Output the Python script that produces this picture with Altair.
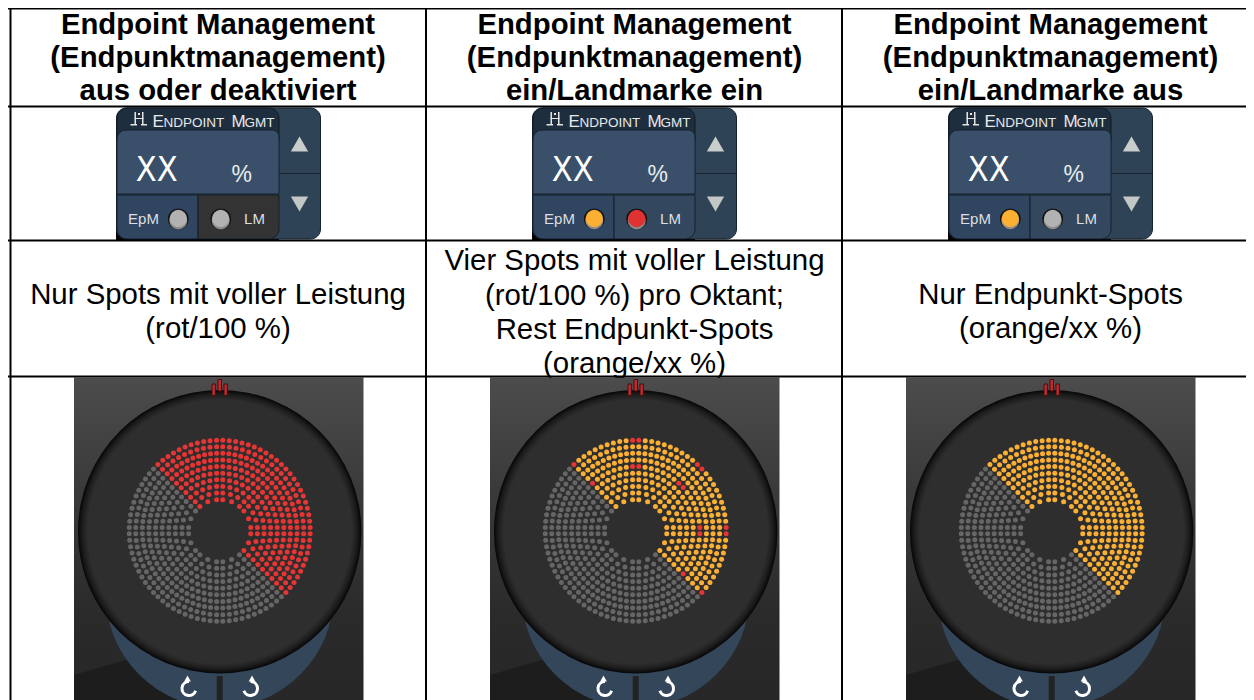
import math
import altair as alt
import pandas as pd

# ---- text ----
HEADERS = [
    ["Endpoint Management", "(Endpunktmanagement)", "aus oder deaktiviert"],
    ["Endpoint Management", "(Endpunktmanagement)", "ein/Landmarke ein"],
    ["Endpoint Management", "(Endpunktmanagement)", "ein/Landmarke aus"],
]
BODIES = [
    [(303.5, "Nur Spots mit voller Leistung"), (337.5, "(rot/100 %)")],
    [(270, "Vier Spots mit voller Leistung"), (304.5, "(rot/100 %) pro Oktant;"),
     (338.5, "Rest Endpunkt-Spots"), (372.5, "(orange/xx %)")],
    [(303.5, "Nur Endpunkt-Spots"), (337.5, "(orange/xx %)")],
]
HEADER_BASELINES = [33.5, 66.5, 99.5]
COLUMN_CENTRES = [218, 634.5, 1050.5]
COLUMN_SHIFT = [0, 416, 832]

# ---- table rules ----
H_LINES = [8.5, 106.5, 240.5, 376.5]
V_LINES = [10.5, 426, 842]

# ---- spot rings ----
RING_RADII = [31.2, 37.8, 44.4, 51.0, 57.6, 64.2, 70.8, 77.4, 84.0, 90.5]
RING_SPOTS_PER_OCTANT = [3, 4, 5, 6, 7, 8, 9, 10, 10, 11]
ACTIVE_OCTANTS = [7, 0, 1, 2]
FULL_POWER_RINGS = [5, 9]
SPOT_BASE = ["#e53535", "#fbb034", "#fbb034"]
SPOT_EDGE = ["#e53535", "#e53535", "#fbb034"]
SPOT_OFF = "#666666"
BOUNDARY_GAP = 3.1
CENTRE = (219.7, 530.7)

# ---- lamps ----
EPM_LAMP = ["#b2b2b2", "#fbb034", "#fbb034"]
LM_LAMP = ["#b2b2b2", "#e03232", "#b2b2b2"]
LM_CELL = ["#333333", "#33475e", "#33475e"]

X_END, Y_END = 1246, 700
xs = alt.Scale(domain=[8, X_END], range=[0, X_END - 8], nice=False, zero=False)
ys = alt.Scale(domain=[8, Y_END], range=[0, Y_END - 8], nice=False, zero=False)


def X(f="x"):
    return alt.X(f"{f}:Q", scale=xs, axis=None)


def Y(f="y"):
    return alt.Y(f"{f}:Q", scale=ys, axis=None)


def rects(rows, **kw):
    df = pd.DataFrame(rows, columns=["x0", "x1", "y0", "y1", "fill"])
    return alt.Chart(df).mark_rect(**kw).encode(
        x=X("x0"), x2="x1", y=Y("y0"), y2="y1",
        fill=alt.Fill("fill:N", scale=None))


def dots(rows, size, shape="circle", **kw):
    df = pd.DataFrame(rows, columns=["x", "y", "fill"])
    return alt.Chart(df).mark_point(filled=True, opacity=1, strokeWidth=0,
                                    size=size, shape=shape, **kw).encode(
        x=X(), y=Y(), fill=alt.Fill("fill:N", scale=None))


def texts(rows, **kw):
    df = pd.DataFrame(rows, columns=["x", "y", "t"])
    return alt.Chart(df).mark_text(**kw).encode(x=X(), y=Y(), text="t:N")


layers = []
SANS = "Liberation Sans"

# ---- header / body text ----
layers.append(texts([(COLUMN_CENTRES[c], HEADER_BASELINES[i], line)
                     for c, block in enumerate(HEADERS) for i, line in enumerate(block)],
                    font=SANS, fontSize=29.3, fontWeight="bold", color="#000000",
                    align="center", baseline="alphabetic"))
layers.append(texts([(COLUMN_CENTRES[c], y, line)
                     for c, block in enumerate(BODIES) for y, line in block],
                    font=SANS, fontSize=29.4, color="#000000",
                    align="center", baseline="alphabetic"))

# ---- widgets ----
GLYPH_BAR = "#e4e4e4"
for c, dx in enumerate(COLUMN_SHIFT):
    layers.append(rects([(116 + dx, 279 + dx, 192, 240, "#050505")]))
    layers.append(rects([(116.5 + dx, 320.5 + dx, 108, 239, "#2f4356")],
                        cornerRadius=10, stroke="#16222e", strokeWidth=1))
    layers.append(rects([(279 + dx, 320 + dx, 173, 174, "#17232f")]))
    layers.append(rects([(117 + dx, 279 + dx, 108, 140, "#1e2e3f")],
                        cornerRadiusTopLeft=10, cornerRadiusTopRight=10,
                        stroke="#101b26", strokeWidth=1))
    layers.append(rects([(117 + dx, 279 + dx, 130, 194, "#3a506a")],
                        cornerRadiusTopLeft=9, cornerRadiusTopRight=7,
                        stroke="#14202c", strokeWidth=1))
    layers.append(rects([(117 + dx, 198 + dx, 195, 239, "#2f4560")],
                        cornerRadiusBottomLeft=10, stroke="#14202c", strokeWidth=1))
    layers.append(rects([(198 + dx, 279 + dx, 195, 239, LM_CELL[c])],
                        cornerRadiusBottomRight=10, stroke="#14202c", strokeWidth=1))
    # endpoint icon
    layers.append(rects([(134.5 + dx, 136 + dx, 112, 124, GLYPH_BAR),
                         (142 + dx, 143.5 + dx, 112, 124, GLYPH_BAR),
                         (134.5 + dx, 143.5 + dx, 118, 119, GLYPH_BAR),
                         (130.5 + dx, 137 + dx, 124, 125.5, GLYPH_BAR),
                         (141 + dx, 147 + dx, 124, 125.5, GLYPH_BAR),
                         (138 + dx, 140 + dx, 113, 115, GLYPH_BAR)]))
    # title in small capitals
    layers.append(texts([(152.5 + dx, 126.5, "E"), (231.5 + dx, 126.5, "M")],
                        font=SANS, fontSize=17, color="#e6e8ea",
                        align="left", baseline="alphabetic"))
    layers.append(texts([(163.5 + dx, 126.5, "NDPOINT"), (244.5 + dx, 126.5, "GMT")],
                        font=SANS, fontSize=13.5, color="#e6e8ea",
                        align="left", baseline="alphabetic"))
    # readout
    layers.append(texts([(156.7 + dx, 181, "XX")], font="DejaVu Sans Condensed, DejaVu Sans",
                        fontSize=34, fontWeight=300, color="#ffffff", align="center",
                        baseline="alphabetic"))
    layers.append(texts([(241.7 + dx, 182, "%")], font=SANS, fontSize=23,
                        color="#e8ecef", align="center", baseline="alphabetic"))
    layers.append(texts([(143.5 + dx, 224, "EpM"), (254.5 + dx, 224, "LM")], font=SANS,
                        fontSize=15, color="#dcdfe2", align="center", baseline="alphabetic"))
    # lamps
    layers.append(dots([(178.3 + dx, 219, "#141414"), (220.7 + dx, 219, "#141414")], 441))
    layers.append(dots([(178.3 + dx, 220.5, "#8a8a8a"), (220.7 + dx, 220.5, "#8a8a8a")], 324))
    layers.append(dots([(178.3 + dx, 218.5, EPM_LAMP[c]), (220.7 + dx, 218.5, LM_LAMP[c])], 300))
    # arrows up/down
    layers.append(dots([(299.5 + dx, 144, "#c9cdcc")], 300, shape="triangle-up"))
    layers.append(dots([(299.5 + dx, 204, "#c3c7c6")], 300, shape="triangle-down"))

# ---- treatment pictures ----
BG_GRAD = alt.LinearGradient(gradient="linear", x1=0, x2=0, y1=0, y2=1, stops=[
    alt.GradientStop(color="#4c4c4c", offset=0),
    alt.GradientStop(color="#3a3a3a", offset=0.35),
    alt.GradientStop(color="#2a2a2a", offset=0.75),
    alt.GradientStop(color="#272727", offset=1)])
DISC_GRAD = alt.RadialGradient(gradient="radial", x1=0.5, y1=0.5, x2=0.5, y2=0.5, r1=0, r2=0.5, stops=[
    alt.GradientStop(color="#2e2e2e", offset=0),
    alt.GradientStop(color="#2e2e2e", offset=0.93),
    alt.GradientStop(color="#1c1c1c", offset=0.97),
    alt.GradientStop(color="#050505", offset=1)])
WEDGE_X = [0, 145]
WEDGE_Y = [298, 256]

for c, dx in enumerate(COLUMN_SHIFT):
    cx, cy = CENTRE[0] + dx, CENTRE[1]
    bg = pd.DataFrame({"x0": [74 + dx], "x1": [363.5 + dx], "y0": [377.5], "y1": [Y_END]})
    layers.append(alt.Chart(bg).mark_rect(fill=BG_GRAD).encode(
        x=X("x0"), x2="x1", y=Y("y0"), y2="y1"))
    wedge = pd.DataFrame({"x": [74 + dx + v for v in WEDGE_X],
                          "y": [377 + v for v in WEDGE_Y], "y2": [Y_END, Y_END]})
    layers.append(alt.Chart(wedge).mark_area(fill="#1d1d1d").encode(x=X(), y=Y(), y2="y2"))
    layers.append(dots([(cx, 594, "#34465a")], 228 * 228, clip=True))
    layers.append(rects([(216.7 + dx, 222.7 + dx, 676, Y_END, "#222222")]))
    disc = pd.DataFrame({"x": [cx], "y": [cy + 1]})
    layers.append(alt.Chart(disc).mark_point(filled=True, opacity=1, strokeWidth=0,
                                             size=283.5 * 283.5, fill=DISC_GRAD).encode(x=X(), y=Y()))
    # fixation marker
    layers.append(rects([(212 + dx, 215.3 + dx, 384, 395.5, "#c8282d"),
                         (218 + dx, 221.5 + dx, 379.5, 391, "#c8282d"),
                         (224 + dx, 227.3 + dx, 384, 395.5, "#c8282d")],
                        stroke="#401010", strokeWidth=1))
    # rotate buttons
    arcs = pd.DataFrame({"x": [189 + dx, 250.5 + dx], "y": [688.5, 688.5],
                         "a": [1.9, 0.0], "b": [6.28, 4.38]})
    layers.append(alt.Chart(arcs).mark_arc(radius=8.5, radius2=5.5, fill="#ffffff").encode(
        x=X(), y=Y(), theta=alt.Theta("a:Q", scale=None), theta2="b:Q"))
    layers.append(dots([(187.5 + dx, 678.5, "#ffffff"), (252 + dx, 678.5, "#ffffff")], 45,
                       shape="triangle-up"))
    # spots
    rows = []
    for ring, (r, n) in enumerate(zip(RING_RADII, RING_SPOTS_PER_OCTANT)):
        arc = math.pi / 4 * r
        step = (arc - 2 * BOUNDARY_GAP) / (n - 1)
        for oct_i in range(8):
            for i in range(n):
                ang = oct_i * math.pi / 4 + (BOUNDARY_GAP + i * step) / r
                col = SPOT_OFF
                if oct_i in ACTIVE_OCTANTS:
                    col = SPOT_BASE[c]
                    if ring in FULL_POWER_RINGS and i in (0, n - 1):
                        col = SPOT_EDGE[c]
                rows.append((cx + r * math.sin(ang), cy - r * math.cos(ang), col))
    layers.append(dots(rows, 25))

# ---- table rules (on top) ----
layers.append(rects([(8, X_END, y - 1, y + 1, "#000000") for y in H_LINES]))
layers.append(rects([(x - 1, x + 1, 8, Y_END, "#000000") for x in V_LINES]))

chart = alt.layer(*layers).properties(
    width=X_END - 8, height=Y_END - 8, padding=0,
    autosize=alt.AutoSizeParams(type="none", contains="padding"),
    background="#ffffff",
).configure_view(stroke=None)

chart.save("out.html", embed_options={"renderer": "svg", "actions": False})
